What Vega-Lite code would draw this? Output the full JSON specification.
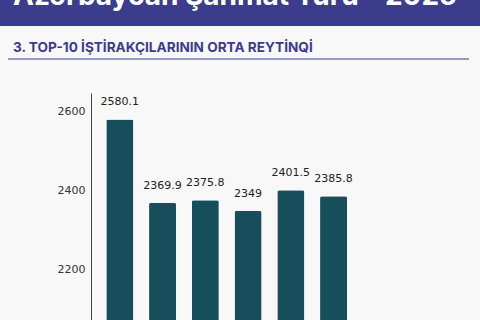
{
  "$schema": "https://vega.github.io/schema/vega-lite/v6.json",
  "background": "#f8f8f9",
  "padding": 0,
  "autosize": {"type": "pad"},
  "config": {"view": {"stroke": null}},
  "spacing": 14,
  "vconcat": [
    {
      "width": 480,
      "height": 26,
      "view": {"fill": "#3c3c8c", "stroke": null},
      "data": {"values": [{"title": "Azərbaycan Şahmat Turu - 2025"}]},
      "mark": {"type": "text", "clip": true, "font": "Inter", "fontWeight": "bold", "fontSize": 28, "color": "#ffffff", "align": "center", "baseline": "alphabetic", "dy": -8, "dx": -5},
      "encoding": {"text": {"field": "title"}}
    },
    {
      "spacing": 32,
      "vconcat": [
        {
          "spacing": 8,
          "bounds": "flush",
          "hconcat": [
            {
              "width": 0.001,
              "height": 0.001,
              "data": {"values": []},
              "mark": {"type": "text"},
              "encoding": {}
            },
            {
              "width": 459,
              "height": 0.001,
              "view": {"stroke": "#9898c2", "strokeWidth": 2},
              "title": {"text": "3. TOP-10 İŞTİRAKÇILARININ ORTA REYTİNQİ", "anchor": "start", "frame": "group", "dx": 4, "offset": -7, "baseline": "alphabetic", "font": "Inter", "fontSize": 13.6, "fontWeight": "bold", "color": "#3c3c8c"},
              "data": {"values": []},
              "mark": {"type": "text"},
              "encoding": {}
            }
          ]
        },
        {
          "spacing": 90,
          "bounds": "flush",
          "hconcat": [
            {
              "width": 0.001,
              "height": 0.001,
              "data": {"values": []},
              "mark": {"type": "text"},
              "encoding": {}
            },
            {
              "width": {"step": 42.75},
              "height": 228,
              "data": {"values": [
                {"stage": "1", "rating": 2580.1},
                {"stage": "2", "rating": 2369.9},
                {"stage": "3", "rating": 2375.8},
                {"stage": "4", "rating": 2349},
                {"stage": "5", "rating": 2401.5},
                {"stage": "6", "rating": 2385.8}
              ]},
              "encoding": {
                "x": {"field": "stage", "type": "nominal", "sort": null, "scale": {"paddingInner": 0.3684, "paddingOuter": 0.358}, "axis": null},
                "y": {"field": "rating", "type": "quantitative", "scale": {"domain": [2070.8, 2647], "zero": false, "nice": false},
                      "axis": {"values": [2200, 2400, 2600], "format": "d", "ticks": false, "grid": false, "title": null, "domainColor": "#444444", "domainWidth": 1, "labelFont": "DejaVu Sans", "labelFontSize": 11, "labelColor": "#333333", "labelPadding": 6}}
              },
              "layer": [
                {"mark": {"type": "bar", "color": "#174e5b", "cornerRadiusTopLeft": 2, "cornerRadiusTopRight": 2}},
                {"mark": {"type": "text", "dy": -17, "baseline": "middle", "font": "DejaVu Sans", "fontSize": 11, "color": "#222222"},
                 "encoding": {"text": {"field": "rating", "type": "quantitative"}}}
              ]
            }
          ]
        }
      ]
    }
  ]
}
